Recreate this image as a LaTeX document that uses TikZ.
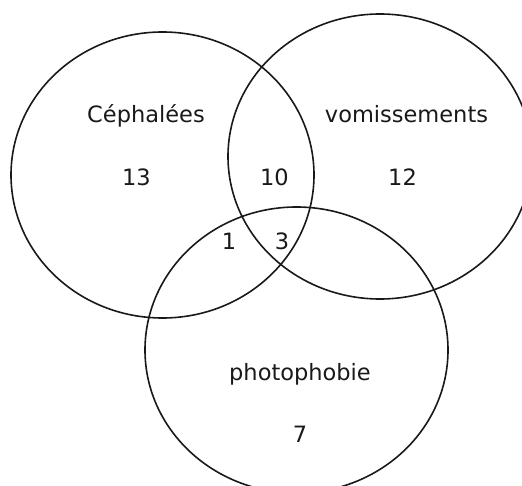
\documentclass[tikz,border=0pt]{standalone}
\usepackage{fontspec}
\setmainfont{DejaVu Sans}
\begin{document}
\begin{tikzpicture}[x=1pt,y=-1pt,
  setline/.style={draw=black!90,line width=1.6pt},
  lab/.style={inner sep=0pt,font=\fontsize{22.5}{26}\selectfont,text=black!90}]
\useasboundingbox (0,0) rectangle (522,486);
\clip (0,0) rectangle (522,486);
\draw[setline] (162.5,175) ellipse [x radius=151.5, y radius=143];
\draw[setline] (380,156.5) ellipse [x radius=152, y radius=142.5];
\draw[setline] (296.5,350) ellipse [x radius=151.5, y radius=143];
\node[lab,anchor=base] (ceph) at (146,123) {Céphalées};
\node[lab,anchor=base] (vomi) at (406.5,123) {vomissements};
\node[lab,anchor=base] (photo) at (300,380) {photophobie};
\node[lab,anchor=base] (n13) at (136.5,186) {13};
\node[lab,anchor=base] (n10) at (274.5,186) {10};
\node[lab,anchor=base] (n12) at (402.5,186) {12};
\node[lab,anchor=base] (n1) at (229,250) {1};
\node[lab,anchor=base] (n3) at (282,250) {3};
\node[lab,anchor=base] (n7) at (300,442) {7};
\end{tikzpicture}
\end{document}
